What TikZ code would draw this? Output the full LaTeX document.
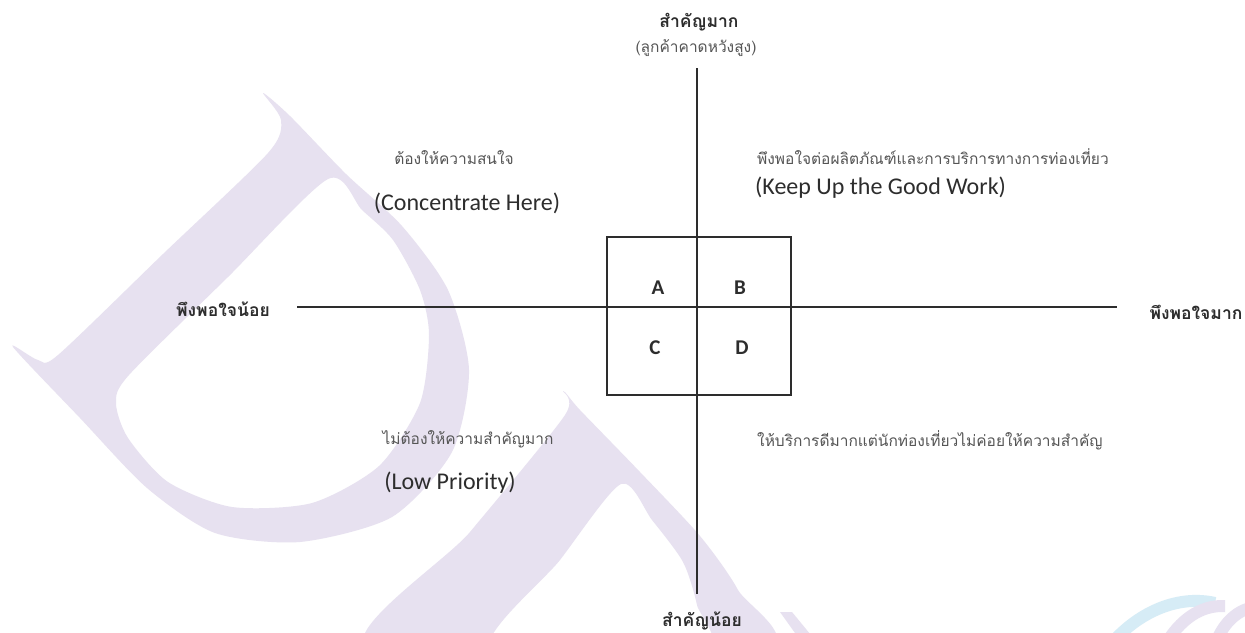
\documentclass[tikz,border=0pt]{standalone}
\usepackage{fontspec}
\setmainfont{Carlito}
\newfontfamily\thai[Script=Thai]{Loma}
\definecolor{wm}{RGB}{231,225,240}
\definecolor{wmblue}{RGB}{214,236,246}
\definecolor{ink}{RGB}{45,45,45}
\definecolor{soft}{RGB}{85,85,85}
\tikzset{
  axis/.style={draw=ink, line width=1.4pt},
  quad/.style={draw=ink, line width=1.1pt, minimum width=184pt, minimum height=158pt, inner sep=0pt},
  letter/.style={font=\fontsize{21}{24}\selectfont\bfseries, text=ink, inner sep=0pt},
  axislabel/.style={font=\thai\fontsize{17.5}{20}\selectfont\bfseries, text=ink, inner sep=0pt},
  thaismall/.style={font=\thai\fontsize{15.5}{18}\selectfont, text=soft, inner sep=0pt},
  engtext/.style={font=\fontsize{24}{28}\selectfont, text=ink, inner sep=0pt},
}
\begin{document}
\begin{tikzpicture}[x=1pt,y=-1pt]
\useasboundingbox (0,0) rectangle (1245,632);
\fill[white] (0,0) rectangle (1245,632);
% watermark letter 1
\fill[wm, even odd rule]
  plot[smooth cycle, tension=0.45] coordinates {(263,93) (290,116) (346,174) (402,226) (448,290) (469,370) (452,452) (392,517) (300,542) (215,533) (147,488) (80,418) (13,347) (38,360) (58,355) (163,254) (268,153) (281,120)}
  plot[smooth cycle, tension=0.45] coordinates {(328,179) (362,210) (393,240) (420,290) (429,335) (420,403) (379,466) (312,503) (232,507) (168,482) (128,438) (116,403) (129,375) (228,277)};
% watermark letter 2
\begin{scope}
\clip (0,0) rectangle (1245,632);
\fill[wm, even odd rule]
  plot[smooth cycle, tension=0.45] coordinates {(563,391) (580,410) (640,472) (700,536) (738,590) (760,650) (370,650) (470,532) (565,415)}
  plot[smooth cycle, tension=0.45] coordinates {(621,484) (652,520) (683,562) (697,605) (702,650) (492,650) (560,560)};
\fill[wm] (780,612) -- (792,612) -- (815,640) -- (800,640) -- cycle;
% bottom right logo fragments
\draw[wmblue, line width=12pt] (1110,645) .. controls (1140,610) and (1180,595) .. (1215,603);
\draw[wm, line width=12pt] (1165,645) .. controls (1180,620) and (1200,605) .. (1225,606);
\draw[wm, line width=12pt] (1215,645) .. controls (1222,625) and (1235,612) .. (1250,608);
\end{scope}
% axes
\coordinate (top) at (697,68);
\coordinate (bot) at (697,594);
\coordinate (lft) at (297,307);
\coordinate (rgt) at (1117,307);
\draw[axis] (top) -- (bot);
\draw[axis] (lft) -- (rgt);
\node[quad] (box) at (699,316) {};
\node[letter] (A) at (658,288) {A};
\node[letter] (B) at (740,288) {B};
\node[letter] (C) at (655,348) {C};
\node[letter] (D) at (742,348) {D};
% axis labels
\node[axislabel] (hi) at (699,22) {สำคัญมาก};
\node[thaismall] (hisub) at (696,48) {(ลูกค้าคาดหวังสูง)};
\node[axislabel] (lo) at (702,621) {สำคัญน้อย};
\node[axislabel] (ls) at (223,309) {พึงพอใจน้อย};
\node[axislabel] (ms) at (1196,312) {พึงพอใจมาก};
% quadrant texts
\node[thaismall] (q1a) at (454,158) {ต้องให้ความสนใจ};
\node[engtext] (q1b) at (467,203) {(Concentrate Here)};
\node[thaismall, anchor=west] (q2a) at (757,157) {พึงพอใจต่อผลิตภัณฑ์และการบริการทางการท่องเที่ยว};
\node[engtext, anchor=west] (q2b) at (755,188) {(Keep Up the Good Work)};
\node[thaismall] (q3a) at (468,439) {ไม่ต้องให้ความสำคัญมาก};
\node[engtext] (q3b) at (450,483) {(Low Priority)};
\node[thaismall, anchor=west] (q4a) at (757,440) {ให้บริการดีมากแต่นักท่องเที่ยวไม่ค่อยให้ความสำคัญ};
\end{tikzpicture}
\end{document}
